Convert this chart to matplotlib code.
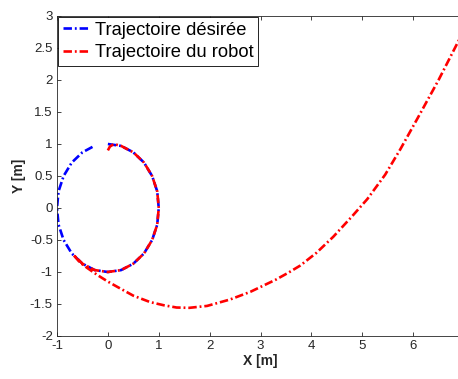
import matplotlib
matplotlib.use('Agg')
import matplotlib.pyplot as plt

# desired trajectory (unit circle)
x_des = [0.00, 0.26, 0.50, 0.71, 0.87, 0.97, 1.00, 0.97, 0.87, 0.71, 0.50, 0.26,
         0.00, -0.26, -0.50, -0.71, -0.87, -0.97, -1.00, -0.97, -0.87, -0.71,
         -0.50, -0.29]
y_des = [1.00, 0.97, 0.87, 0.71, 0.50, 0.26, 0.00, -0.26, -0.50, -0.71, -0.87,
         -0.97, -1.00, -0.97, -0.87, -0.71, -0.50, -0.26, 0.00, 0.26, 0.50, 0.71,
         0.87, 0.96]

# robot trajectory
x_rob = [0.00, 0.04, 0.12, 0.26, 0.50, 0.71, 0.87, 0.97, 1.00, 0.97, 0.87, 0.71,
         0.50, 0.26, 0.00, -0.26, -0.50, -0.68, -0.55, -0.40, -0.20, 0.00, 0.18,
         0.50, 0.83, 1.10, 1.35, 1.60, 1.95, 2.40, 2.80, 3.30, 3.55, 3.78, 4.10,
         4.43, 4.80, 5.10, 5.45, 5.75, 6.10, 6.50, 6.86, 7.00]
y_rob = [0.90, 0.96, 1.00, 0.97, 0.87, 0.71, 0.50, 0.26, 0.00, -0.26, -0.50, -0.71,
         -0.87, -0.97, -1.00, -0.97, -0.87, -0.73, -0.85, -0.94, -1.05, -1.15,
         -1.23, -1.37, -1.47, -1.52, -1.555, -1.56, -1.53, -1.43, -1.31, -1.12,
         -1.01, -0.90, -0.70, -0.45, -0.13, 0.14, 0.52, 0.92, 1.42, 2.00, 2.56,
         2.78]

labels = ['Trajectoire désirée', 'Trajectoire du robot']

plt.rcParams['font.family'] = ['Liberation Sans', 'DejaVu Sans']
grey = '#262626'
dashdot = (0, (3.2, 1.1, 0.7, 1.1))

fig = plt.figure(figsize=(4.58, 3.79), dpi=100)
ax = fig.add_axes([57/458, 43/379, 407/458, 320/379])

ax.plot(x_des, y_des, color='blue', ls=dashdot, lw=1.9, label=labels[0])
ax.plot(x_rob, y_rob, color='red', ls=dashdot, lw=1.9, label=labels[1])

ax.set_xlim(-1, 7)
ax.set_ylim(-2, 3)
ax.set_xticks(range(-1, 7))
ax.set_yticks([-2, -1.5, -1, -0.5, 0, 0.5, 1, 1.5, 2, 2.5, 3])
ax.set_yticklabels(['-2', '-1.5', '-1', '-0.5', '0', '0.5', '1', '1.5', '2', '2.5', '3'])
ax.set_xticklabels([str(v) for v in range(-1, 7)])
ax.tick_params(direction='in', top=True, right=True, length=3, width=0.6,
               colors=grey, labelsize=9.5, pad=3)
for s in ax.spines.values():
    s.set_color(grey)
    s.set_linewidth(0.6)

ax.set_xlabel('X [m]', fontsize=10, fontweight='bold', color=grey, labelpad=1)
ax.set_ylabel('Y [m]', fontsize=10, fontweight='bold', color=grey, labelpad=3)

leg = ax.legend(loc='upper left', fontsize=13.2, fancybox=False, framealpha=1,
                edgecolor='black', borderaxespad=0.05, handlelength=1.5,
                handletextpad=0.25, borderpad=0.25, labelspacing=0.3)
leg.get_frame().set_linewidth(0.6)

fig.savefig('out.png', dpi=100)
